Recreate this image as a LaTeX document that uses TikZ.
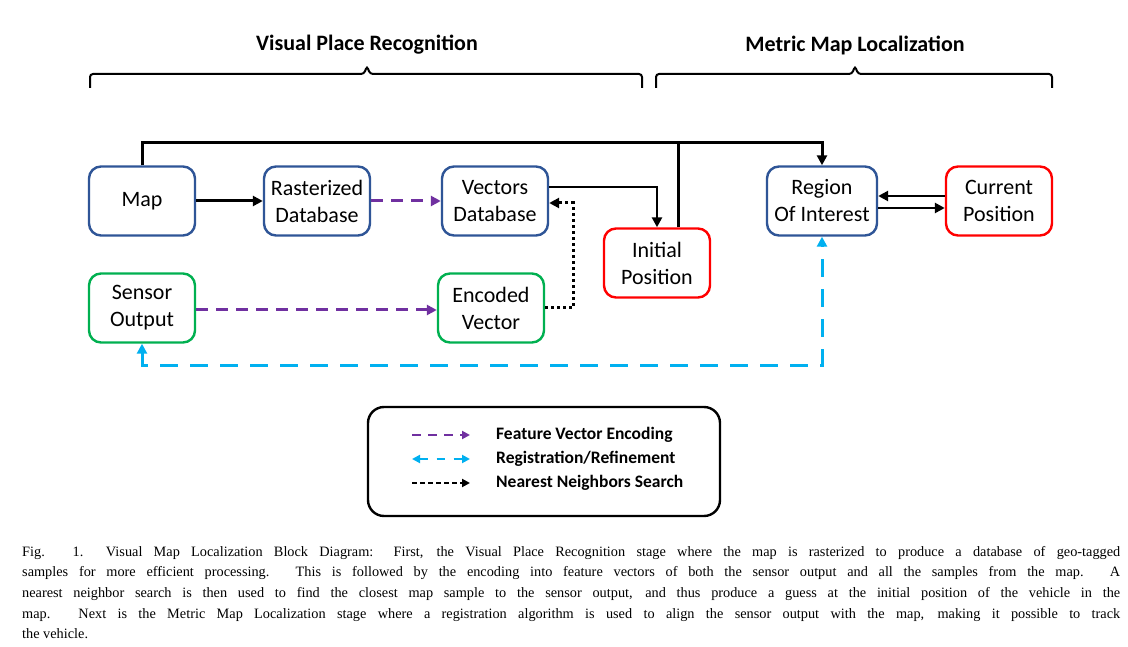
\documentclass[tikz,border=0pt]{standalone}
\usepackage{fontspec}
\setmainfont{Carlito}
\newfontfamily\capfont{Liberation Serif}
\usetikzlibrary{arrows.meta}
\definecolor{bblue}{HTML}{2F5597}
\definecolor{ggreen}{HTML}{00B050}
\definecolor{ppurple}{HTML}{7030A0}
\definecolor{lblue}{HTML}{00B0F0}
\begin{document}
\begin{tikzpicture}[x=1pt,y=-1pt,
  box/.style={draw, line width=2.4pt, rounded corners=12pt, minimum width=106pt, minimum height=69pt, align=center, font=\fontsize{22}{27}\selectfont, inner sep=0pt},
  bluebox/.style={box, draw=bblue},
  redbox/.style={box, draw=red},
  greenbox/.style={box, draw=ggreen},
  tip/.style={-{Triangle[length=10pt,width=10pt]}},
  conn/.style={line width=3pt, tip},
  purp/.style={draw=ppurple, line width=3pt, dash pattern=on 12pt off 8pt, tip},
  dotc/.style={line width=3pt, dash pattern=on 3pt off 3pt, tip},
  bluec/.style={draw=lblue, line width=3pt, dash pattern=on 18pt off 12pt, {Triangle[length=10pt,width=10pt]}-{Triangle[length=10pt,width=10pt]}},
  title/.style={font=\bfseries\fontsize{22}{26}\selectfont},
  brace/.style={line width=2pt, rounded corners=3pt},
  legtext/.style={anchor=west, font=\bfseries\fontsize{17.5}{20}\selectfont, inner sep=0pt}
]
\useasboundingbox (0,0) rectangle (1128,647);
\fill[white] (0,0) rectangle (1128,647);

% titles and braces
\node[title] (t1) at (367,45) {Visual Place Recognition};
\node[title] (t2) at (855,45) {Metric Map Localization};
\draw[brace] (90,88) -- (90,74) -- (364,74) -- (367,66) -- (370,74) -- (642,74) -- (642,88);
\draw[brace] (656,88) -- (656,74) -- (852,74) -- (855,66) -- (858,74) -- (1052,74) -- (1052,88);

% nodes
\node[bluebox] (map) at (142,201) {Map};
\node[bluebox] (rd) at (317,201) {Rasterized\\Database};
\node[bluebox] (vd) at (495,201) {Vectors\\Database};
\node[redbox] (ip) at (657,263) {Initial\\Position};
\node[bluebox, minimum width=110pt] (roi) at (822,201) {Region\\Of Interest};
\node[redbox] (cp) at (999,201) {Current\\Position};
\node[greenbox] (so) at (142,308) {Sensor\\Output};
\node[greenbox] (ev) at (491,308) {Encoded\\Vector};

% connectors
\coordinate (j) at (678,143);
\draw[conn] (map.north) -- (map.north |- j) -| (roi.north);
\draw[line width=3pt] (ip.north -| j) -- (j);
\draw[conn] (map.east) -- (rd.west);
\draw[purp] (rd.east) -- (vd.west);
\draw[conn, line width=2.6pt] (vd.east |- 0,187) -| (ip.north);
\draw[dotc] (ev.east) -- ++(28,0) |- (vd.east |- 0,203);
\draw[purp] (so.east |- 0,310) -- (ev.west |- 0,310);
\draw[bluec] (so.south) -- (so.south |- 0,365) -| (roi.south);
\draw[conn, line width=2.6pt] (cp.west |- 0,196) -- (roi.east |- 0,196);
\draw[conn, line width=2.6pt] (roi.east |- 0,208) -- (cp.west |- 0,208);

% legend
\node[draw, line width=2.4pt, rounded corners=16pt, minimum width=352pt, minimum height=109pt, inner sep=0pt] (leg) at (544,461.5) {};
\coordinate (l1a) at (412,435); \coordinate (l1b) at (470,435);
\coordinate (l2a) at (412,459); \coordinate (l2b) at (470,459);
\coordinate (l3a) at (412,483); \coordinate (l3b) at (470,483);
\draw[draw=ppurple, line width=2.2pt, dash pattern=on 9pt off 7pt, -{Triangle[length=8pt,width=8pt]}] (l1a) -- (l1b);
\draw[draw=lblue, line width=2.2pt, dash pattern=on 8pt off 9pt, {Triangle[length=8pt,width=8pt]}-{Triangle[length=8pt,width=8pt]}] (l2a) -- (l2b);
\draw[line width=2pt, dash pattern=on 5pt off 3pt, -{Triangle[length=8pt,width=8pt]}] (l3a) -- (l3b);
\node[legtext] (lt1) at (496,435) {Feature Vector Encoding};
\node[legtext] (lt2) at (496,459) {Registration/Refinement};
\node[legtext] (lt3) at (496,483) {Nearest Neighbors Search};

% caption
\node[anchor=north west, inner sep=0pt, text width=1098pt, align=justify, font=\capfont\fontsize{14.3}{20.6}\selectfont] (cap) at (22,546) {Fig. 1.\ \ Visual Map Localization Block Diagram: First, the Visual Place Recognition stage where the map is rasterized to produce a database of geo-tagged\linebreak samples for more efficient processing. This is followed by the encoding into feature vectors of both the sensor output and all the samples from the map. A\linebreak nearest neighbor search is then used to find the closest map sample to the sensor output, and thus produce a guess at the initial position of the vehicle in the\linebreak map. Next is the Metric Map Localization stage where a registration algorithm is used to align the sensor output with the map, making it possible to track\linebreak the vehicle.};
\end{tikzpicture}
\end{document}
